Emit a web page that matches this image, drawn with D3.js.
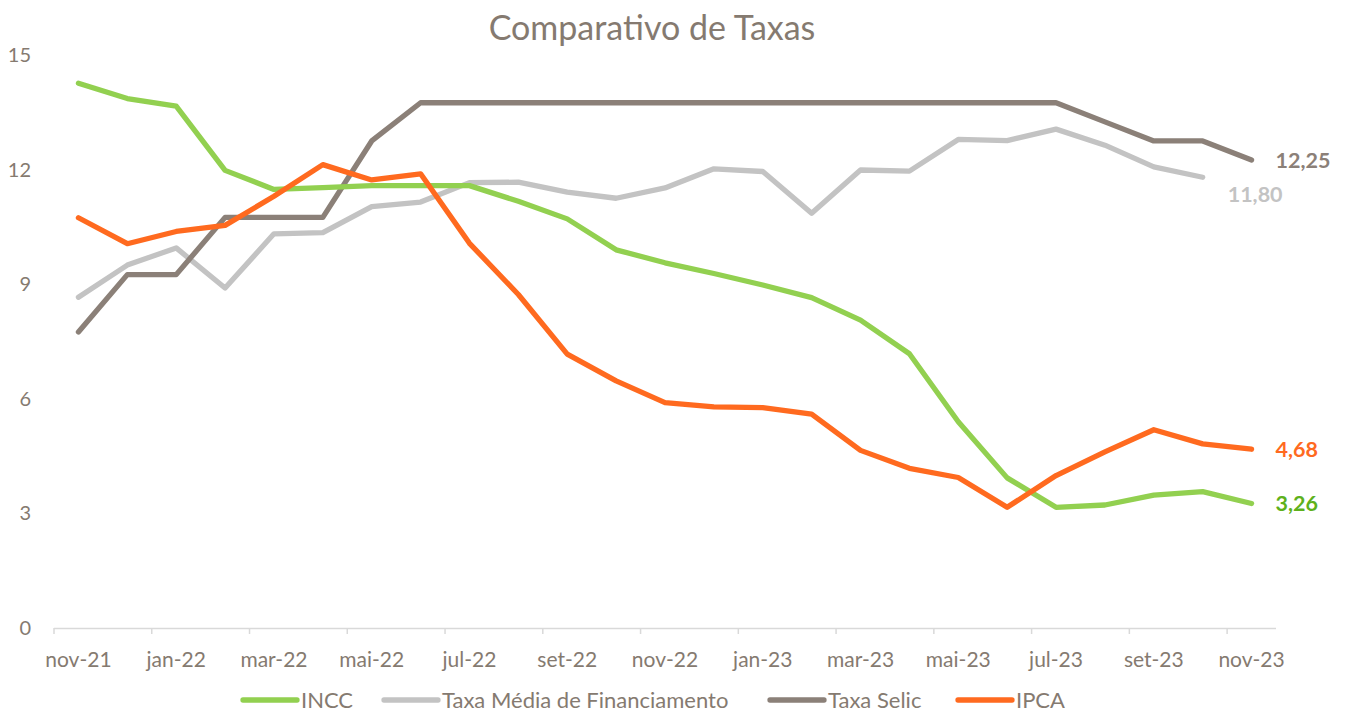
<!DOCTYPE html>
<html>
<head>
<meta charset="utf-8">
<script src="https://cdn.jsdelivr.net/npm/d3@7"></script>
<style>
  body { margin: 0; background: #fff; }
  svg { display: block; font-family: Lato, "Open Sans", sans-serif; }
</style>
</head>
<body>
<svg id="chart" width="1346" height="714"></svg>
<script>
const months = ["nov-21","dez-21","jan-22","fev-22","mar-22","abr-22","mai-22","jun-22","jul-22","ago-22","set-22","out-22",
  "nov-22","dez-22","jan-23","fev-23","mar-23","abr-23","mai-23","jun-23","jul-23","ago-23","set-23","out-23","nov-23"];
const xTickLabels = ["nov-21","jan-22","mar-22","mai-22","jul-22","set-22","nov-22","jan-23","mar-23","mai-23","jul-23","set-23","nov-23"];
const yTicks = [0, 3, 6, 9, 12, 15];

const incc = [14.26, 13.86, 13.66, 11.98, 11.48, 11.53, 11.58, 11.58, 11.58, 11.17, 10.71, 9.90,
  9.56, 9.28, 8.98, 8.65, 8.06, 7.18, 5.40, 3.93, 3.16, 3.22, 3.48, 3.57, 3.26];
const taxaMedia = [8.66, 9.50, 9.95, 8.90, 10.32, 10.35, 11.03, 11.15, 11.66, 11.67, 11.41, 11.25,
  11.52, 12.02, 11.95, 10.86, 11.99, 11.96, 12.79, 12.76, 13.06, 12.64, 12.07, 11.80];
const selic = [7.75, 9.25, 9.25, 10.75, 10.75, 10.75, 12.75, 13.75, 13.75, 13.75, 13.75, 13.75,
  13.75, 13.75, 13.75, 13.75, 13.75, 13.75, 13.75, 13.75, 13.75, 13.25, 12.75, 12.75, 12.25];
const ipca = [10.74, 10.06, 10.38, 10.54, 11.30, 12.13, 11.73, 11.89, 10.07, 8.73, 7.17, 6.47,
  5.90, 5.79, 5.77, 5.60, 4.65, 4.18, 3.94, 3.16, 3.99, 4.61, 5.19, 4.82, 4.68];

const seriesNames = ["INCC", "Taxa Média de Financiamento", "Taxa Selic", "IPCA"];
const seriesValues = [incc, taxaMedia, selic, ipca];
const seriesColors = ["#92d050", "#c3c3c3", "#8b8078", "#ff6a1f"];
const endLabelColors = ["#5eb11c", "#c3c3c3", "#8b8078", "#ff6a1f"];
const endLabels = ["3,26", "11,80", "12,25", "4,68"];

const textColor = "#857a70";
const svg = d3.select("#chart");

const x = d3.scaleBand().domain(months).range([54, 1276]).padding(0);
const bw = x.bandwidth();
const y = d3.scaleLinear().domain([0, 15]).range([628, 55]);
const cx = m => x(m) + bw / 2;

// Title
svg.append("text").attr("x", 652).attr("y", 40).attr("text-anchor", "middle")
  .attr("font-size", 34).attr("fill", textColor).text("Comparativo de Taxas");

// Y axis
const yAxis = svg.append("g").attr("transform", "translate(31,0)")
  .call(d3.axisLeft(y).tickValues(yTicks).tickSize(0).tickPadding(0).tickFormat(d3.format("d")));
yAxis.select(".domain").remove();
yAxis.selectAll("text").attr("font-size", 20).attr("fill", textColor).attr("font-family", "Lato, sans-serif");

// X axis
const xAxis = svg.append("g").attr("transform", "translate(0,628)")
  .call(d3.axisBottom(x).tickValues(xTickLabels).tickSize(6).tickPadding(18).tickSizeOuter(0));
xAxis.select(".domain").attr("stroke", "#d9d9d9").attr("stroke-width", 1.5)
  .attr("d", `M54,0.5H1276`);
xAxis.selectAll(".tick line").attr("stroke", "#d9d9d9").attr("stroke-width", 1.5)
  .attr("x1", -bw / 2).attr("x2", -bw / 2);
xAxis.selectAll(".tick text").attr("font-size", 21).attr("fill", textColor).attr("font-family", "Lato, sans-serif");

// Lines
const line = d3.line().x((d, i) => cx(months[i])).y(d => y(d));
const order = [1, 2, 0, 3];
order.forEach(k => {
  svg.append("path").datum(seriesValues[k])
    .attr("fill", "none").attr("stroke", seriesColors[k]).attr("stroke-width", 5.3)
    .attr("stroke-linejoin", "round").attr("stroke-linecap", "round")
    .attr("d", line);
});

// End labels
const labelOffsets = [[24, 0], [25, 17], [24, 0], [24, 0]];
seriesValues.forEach((vals, k) => {
  const i = vals.length - 1;
  svg.append("text")
    .attr("x", cx(months[i]) + labelOffsets[k][0])
    .attr("y", y(vals[i]) + labelOffsets[k][1])
    .attr("dy", "0.35em")
    .attr("font-size", 21.5).attr("font-weight", "bold")
    .attr("fill", endLabelColors[k]).text(endLabels[k]);
});

// Legend
const legendX = [243, 384, 770, 958];
const legend = svg.append("g").attr("transform", "translate(0,700)");
seriesNames.forEach((name, k) => {
  legend.append("line").attr("x1", legendX[k]).attr("x2", legendX[k] + 54)
    .attr("y1", 0).attr("y2", 0).attr("stroke", seriesColors[k]).attr("stroke-width", 5.3)
    .attr("stroke-linecap", "round");
  legend.append("text").attr("x", legendX[k] + 58).attr("y", 0).attr("dy", "0.35em")
    .attr("font-size", 22).attr("fill", textColor).text(name);
});
</script>
</body>
</html>
